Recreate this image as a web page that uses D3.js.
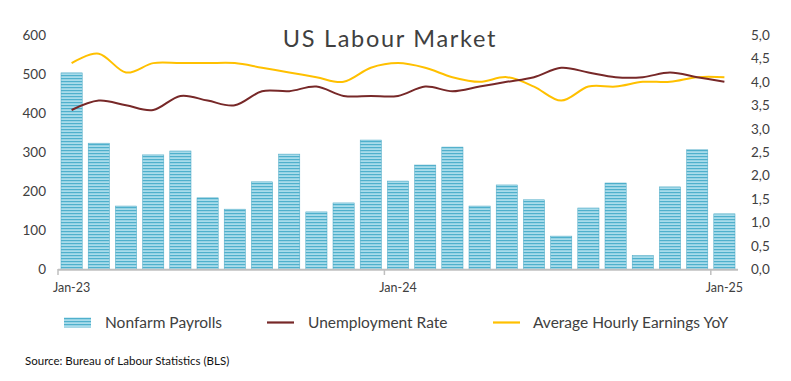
<!DOCTYPE html>
<html><head><meta charset="utf-8">
<script src="https://cdn.jsdelivr.net/npm/d3@7"></script>
<style>
body{margin:0;background:#fff;}
svg{display:block;font-family:Lato,"Open Sans",sans-serif;}
</style></head>
<body><svg id="c" width="791" height="381"></svg>
<script>
const months = ["Jan-23","Feb-23","Mar-23","Apr-23","May-23","Jun-23","Jul-23","Aug-23","Sep-23","Oct-23","Nov-23","Dec-23",
"Jan-24","Feb-24","Mar-24","Apr-24","May-24","Jun-24","Jul-24","Aug-24","Sep-24","Oct-24","Nov-24","Dec-24","Jan-25"];
const payrolls = [503,323,162,293,303,183,154,224,295,147,170,331,226,267,313,162,216,178,85,157,221,35,211,306,142];
const unemployment = [3.4,3.6,3.5,3.4,3.7,3.6,3.5,3.8,3.8,3.9,3.7,3.7,3.7,3.9,3.8,3.9,4.0,4.1,4.3,4.2,4.1,4.1,4.2,4.1,4.0];
const earnings = [4.4,4.6,4.2,4.4,4.4,4.4,4.4,4.3,4.2,4.1,4.0,4.3,4.4,4.3,4.1,4.0,4.1,3.9,3.6,3.9,3.9,4.0,4.0,4.1,4.1];
const leftTicks = [0,100,200,300,400,500,600];
const rightTicks = [0,0.5,1,1.5,2,2.5,3,3.5,4,4.5,5];
const xTickLabels = ["Jan-23","Jan-24","Jan-25"];
const legendLabels = ["Nonfarm Payrolls","Unemployment Rate","Average Hourly Earnings YoY"];

const svg = d3.select("#c");
const textCol = "#404040";
const x = d3.scaleBand().domain(months).range([58,738]).paddingInner(0.22).paddingOuter(0.11);
const yL = d3.scaleLinear().domain([0,600]).range([269.3,35]);
const yR = d3.scaleLinear().domain([0,5]).range([269.3,35]);

const defs = svg.append("defs");
const pat = defs.append("pattern").attr("id","stripes").attr("patternUnits","userSpaceOnUse")
  .attr("width",6).attr("height",3);
pat.append("rect").attr("width",6).attr("height",3).attr("fill","#a9dceb");
pat.append("rect").attr("width",6).attr("height",1.2).attr("fill","#4fb0cc");

// title
svg.append("text").attr("x",390).attr("y",47).attr("text-anchor","middle")
  .attr("font-size",23.5).attr("letter-spacing",1.7).attr("fill",textCol).text("US Labour Market");

// bars
svg.append("g").selectAll("rect").data(payrolls).join("rect")
  .attr("x",(d,i)=>x(months[i])).attr("width",x.bandwidth())
  .attr("y",d=>yL(d)).attr("height",d=>yL(0)-yL(d))
  .attr("fill","url(#stripes)").attr("stroke","#4aa8c4").attr("stroke-width",0.5);

// left axis
const gl = svg.append("g").attr("transform","translate(46,0)")
  .call(d3.axisLeft(yL).tickValues(leftTicks).tickSize(0).tickPadding(0));
gl.select(".domain").remove();
gl.selectAll("text").attr("font-size",13.5).attr("fill",textCol).attr("font-family","Lato,sans-serif");

// right axis
const fmtR = d => d3.format(".1f")(d).replace(".",",");
const gr = svg.append("g").attr("transform","translate(751,0)")
  .call(d3.axisRight(yR).tickValues(rightTicks).tickSize(0).tickPadding(0).tickFormat(fmtR));
gr.select(".domain").remove();
gr.selectAll("text").attr("font-size",13.5).attr("fill",textCol).attr("font-family","Lato,sans-serif");

// x axis
const xa = svg.append("g");
xa.append("line").attr("x1",58).attr("x2",738).attr("y1",269.8).attr("y2",269.8)
  .attr("stroke","#bfbfbf").attr("stroke-width",2);
xTickLabels.forEach(lab=>{
  const left = x(lab) - x.step()*x.paddingInner()/2;
  xa.append("line").attr("x1",left).attr("x2",left).attr("y1",269).attr("y2",275)
    .attr("stroke","#bfbfbf").attr("stroke-width",1.5);
  xa.append("text").attr("x",x(lab)+x.bandwidth()/2).attr("y",292).attr("text-anchor","middle")
    .attr("font-size",12.5).attr("fill",textCol).text(lab);
});

// lines
const cx = i => x(months[i]) + x.bandwidth()/2;
const line = d3.line().x((d,i)=>cx(i)).y(d=>yR(d)).curve(d3.curveCardinal.tension(0));
svg.append("path").attr("d",line(earnings)).attr("fill","none").attr("stroke","#ffc000").attr("stroke-width",2);
svg.append("path").attr("d",line(unemployment)).attr("fill","none").attr("stroke","#772828").attr("stroke-width",2);

// legend
const lg = svg.append("g");
lg.append("rect").attr("x",64).attr("y",317.5).attr("width",27).attr("height",10).attr("fill","url(#stripes)");
lg.append("text").attr("x",105).attr("y",328).attr("font-size",15.5).attr("fill",textCol).text(legendLabels[0]);
lg.append("line").attr("x1",267).attr("x2",294).attr("y1",322.5).attr("y2",322.5).attr("stroke","#772828").attr("stroke-width",2.2);
lg.append("text").attr("x",308).attr("y",328).attr("font-size",15.5).attr("fill",textCol).text(legendLabels[1]);
lg.append("line").attr("x1",493).attr("x2",520).attr("y1",322.5).attr("y2",322.5).attr("stroke","#ffc000").attr("stroke-width",2.2);
lg.append("text").attr("x",533).attr("y",328).attr("font-size",15.5).attr("fill",textCol).text(legendLabels[2]);

// source
svg.append("text").attr("x",25).attr("y",365).attr("font-size",11.5).attr("fill","#111")
  .text("Source: Bureau of Labour Statistics (BLS)");
</script></body></html>
